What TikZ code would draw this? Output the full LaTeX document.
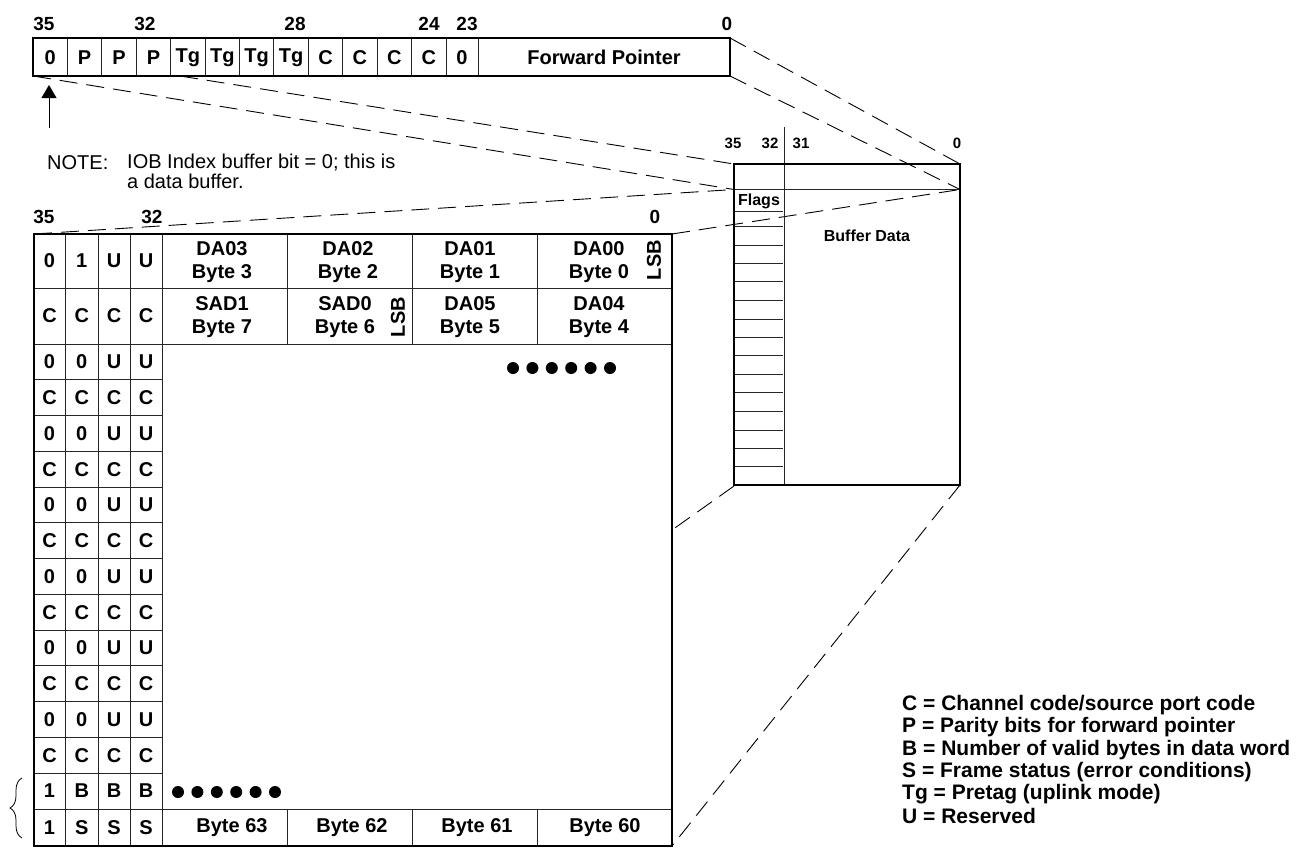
\documentclass[tikz,border=0pt]{standalone}
\usepackage{fontspec}
\setmainfont{Liberation Sans}
\usetikzlibrary{arrows.meta,decorations.pathreplacing}
\begin{document}
\begin{tikzpicture}[x=1pt,y=-1pt,
  thinline/.style={line width=0.9pt, draw=black!85},
  thickline/.style={line width=2.8pt},
  proj/.style={line width=0.9pt, dash pattern=on 18pt off 9pt},
  cell/.style={font=\fontsize{20}{22}\selectfont\bfseries, inner sep=0pt, anchor=center},
  bitlbl/.style={font=\fontsize{19}{21}\selectfont\bfseries, inner sep=0pt},
  smalllbl/.style={font=\fontsize{15}{17}\selectfont\bfseries, inner sep=0pt},
  bytetxt/.style={font=\fontsize{20}{23}\selectfont\bfseries, inner sep=0pt, align=center},
  lsb/.style={font=\fontsize{20}{22}\selectfont\bfseries, inner sep=0pt, rotate=90},
  legendtxt/.style={font=\fontsize{21}{22}\selectfont\bfseries, inner sep=0pt, anchor=west},
  notetxt/.style={font=\fontsize{20}{21}\selectfont, inner sep=0pt, anchor=west},
  dotmark/.style={circle, fill=black, inner sep=0pt, minimum size=12pt},
]
\useasboundingbox (0,0) rectangle (1296,849);

% ---------- named coordinates for connectors ----------
\coordinate (regTR) at (730,38);
\coordinate (regBR) at (730,76);
\coordinate (regBL) at (33,76);
\coordinate (regM)  at (180,76);
\coordinate (sbTL) at (734,164);
\coordinate (sbTR) at (960,164);
\coordinate (sbL1) at (734,189.5);
\coordinate (sbR1) at (960,189.5);
\coordinate (sbBL) at (734,486);
\coordinate (sbBR) at (960,485);
\coordinate (mbTL) at (34,234);
\coordinate (mbTR) at (672,234);
\coordinate (mbR)  at (672,530);
\coordinate (mbBR) at (672,846);

% ---------- projection lines ----------
\draw[proj] (regTR) -- (sbTR);
\draw[proj] (regBR) -- (sbR1);
\draw[proj] (regBL) -- (sbL1);
\draw[proj] (regM) -- (sbTL);
\draw[proj] (mbTL) -- (sbL1);
\draw[proj] (mbTR) -- (sbR1);
\draw[proj] (sbBL) -- (mbR);
\draw[proj] (sbBR) -- (mbBR);

% ---------- top register ----------
\foreach \k in {1,...,12}
  \draw[thinline] ({33+34.417*\k},38) -- ({33+34.417*\k},76);
\draw[thinline] (478,38) -- (478,76);
\draw[thickline] (33,38) rectangle (730,76);
\foreach \t [count=\i] in {0,P,P,P,Tg,Tg,Tg,Tg,C,C,C,C}
  \node[cell] (reg\i) at ({33+34.417*(\i-0.5)},57.5) {\t};
\node[cell] (reg13) at (462,57.5) {0};
\node[cell] (reg14) at (604,57.5) {Forward Pointer};
\foreach \x/\t [count=\i] in {44/35, 145/32, 295/28, 429/24, 467/23, 727/0}
  \node[bitlbl] (rbit\i) at (\x,23.5) {\t};

% ---------- arrow and note ----------
\coordinate (arrS) at (49,128);
\coordinate (arrE) at (49,85);
\draw[line width=1pt, -{Triangle[width=15pt,length=13pt]}] (arrS) -- (arrE);
\node[notetxt] (noteA) at (47,163) {NOTE:};
\node[notetxt] (noteB) at (127,163) {IOB Index buffer bit = 0; this is};
\node[notetxt] (noteC) at (127,181) {a data buffer.};

% ---------- small buffer box ----------
\draw[thinline] (784,127) -- (784,485);
\draw[thinline] (734,189.5) -- (960,189.5);
\foreach \y in {211,226.7,245,263.3,281.7,300,319,337.3,355.7,374,392.7,411,430,448.3,466.7}
  \draw[thinline] (734,\y) -- (783,\y);
\draw[thickline] (734,164) rectangle (960,485);
\node[font=\fontsize{16}{18}\selectfont\bfseries, inner sep=0pt] (flags) at (759,201) {Flags};
\node[font=\fontsize{16}{18}\selectfont\bfseries, inner sep=0pt] (bufdata) at (867,236) {Buffer Data};
\foreach \x/\t [count=\i] in {733/35, 770/32, 801/31, 957/0}
  \node[smalllbl] (sbit\i) at (\x,143) {\t};

% ---------- main buffer box ----------
\foreach \x in {65.5,98,130,162}
  \draw[thinline] (\x,234) -- (\x,846);
\foreach \x in {287,412,537} {
  \draw[thinline] (\x,234) -- (\x,344);
  \draw[thinline] (\x,809) -- (\x,846);
}
\draw[thinline] (34,288) -- (672,288);
\draw[thinline] (34,344) -- (672,344);
\draw[thinline] (34,809) -- (672,809);
\foreach \k in {1,...,12}
  \draw[thinline] (34,{344+35.75*\k}) -- (162,{344+35.75*\k});
\draw[thickline] (34,234) rectangle (672,846);

\node[bitlbl] (mbit1) at (44,216.5) {35};
\node[bitlbl] (mbit2) at (152,216.5) {32};
\node[bitlbl] (mbit3) at (655,216.5) {0};

% flag cells
\foreach \x/\t [count=\i] in {49.5/0, 81.75/1, 114/U, 146/U}
  \node[cell] (ra\i) at (\x,261) {\t};
\foreach \x [count=\i] in {49.5, 81.75, 114, 146}
  \node[cell] (rb\i) at (\x,316) {C};
\foreach \k in {1,...,12}{
  \pgfmathsetmacro{\yc}{344+35.75*(\k-0.5)}
  \ifodd\k
    \node[cell] (n\k-1) at (49.5,\yc) {0};
    \node[cell] (n\k-2) at (81.75,\yc) {0};
    \node[cell] (n\k-3) at (114,\yc) {U};
    \node[cell] (n\k-4) at (146,\yc) {U};
  \else
    \node[cell] (n\k-1) at (49.5,\yc) {C};
    \node[cell] (n\k-2) at (81.75,\yc) {C};
    \node[cell] (n\k-3) at (114,\yc) {C};
    \node[cell] (n\k-4) at (146,\yc) {C};
  \fi
}
\foreach \x/\t [count=\i] in {49.5/1, 81.75/B, 114/B, 146/B}
  \node[cell] (rB\i) at (\x,791) {\t};
\foreach \x/\t [count=\i] in {49.5/1, 81.75/S, 114/S, 146/S}
  \node[cell] (rS\i) at (\x,827.5) {\t};

% byte cells
\node[bytetxt] (da03) at (222,262) {DA03\\Byte 3};
\node[bytetxt] (da02) at (348,262) {DA02\\Byte 2};
\node[bytetxt] (da01) at (470,262) {DA01\\Byte 1};
\node[bytetxt] (da00) at (599,262) {DA00\\Byte 0};
\node[lsb] (lsb1) at (654,260) {LSB};
\node[bytetxt] (sad1) at (222,317) {SAD1\\Byte 7};
\node[bytetxt] (sad0) at (345,317) {SAD0\\Byte 6};
\node[lsb] (lsb2) at (398,317) {LSB};
\node[bytetxt] (da05) at (470,317) {DA05\\Byte 5};
\node[bytetxt] (da04) at (599,317) {DA04\\Byte 4};
\node[bytetxt] (b63) at (232,828) {Byte 63};
\node[bytetxt] (b62) at (352,828) {Byte 62};
\node[bytetxt] (b61) at (477,828) {Byte 61};
\node[bytetxt] (b60) at (605,828) {Byte 60};

% dots
\foreach \i in {0,...,5} {
  \node[dotmark] (dA\i) at ({513+19.4*\i},368) {};
  \node[dotmark] (dB\i) at ({178+19.4*\i},792) {};
}

% brace
\draw[line width=0.8pt, decorate, decoration={brace, amplitude=12pt, aspect=0.5}] (22,838) -- (22,778);

% ---------- legend ----------
\node[legendtxt] (lg1) at (902,705) {C = Channel code/source port code};
\node[legendtxt] (lg2) at (902,727) {P = Parity bits for forward pointer};
\node[legendtxt] (lg3) at (902,750) {B = Number of valid bytes in data word};
\node[legendtxt] (lg4) at (902,772) {S = Frame status (error conditions)};
\node[legendtxt] (lg5) at (902,794) {Tg = Pretag (uplink mode)};
\node[legendtxt] (lg6) at (902,816) {U = Reserved};
\end{tikzpicture}
\end{document}
